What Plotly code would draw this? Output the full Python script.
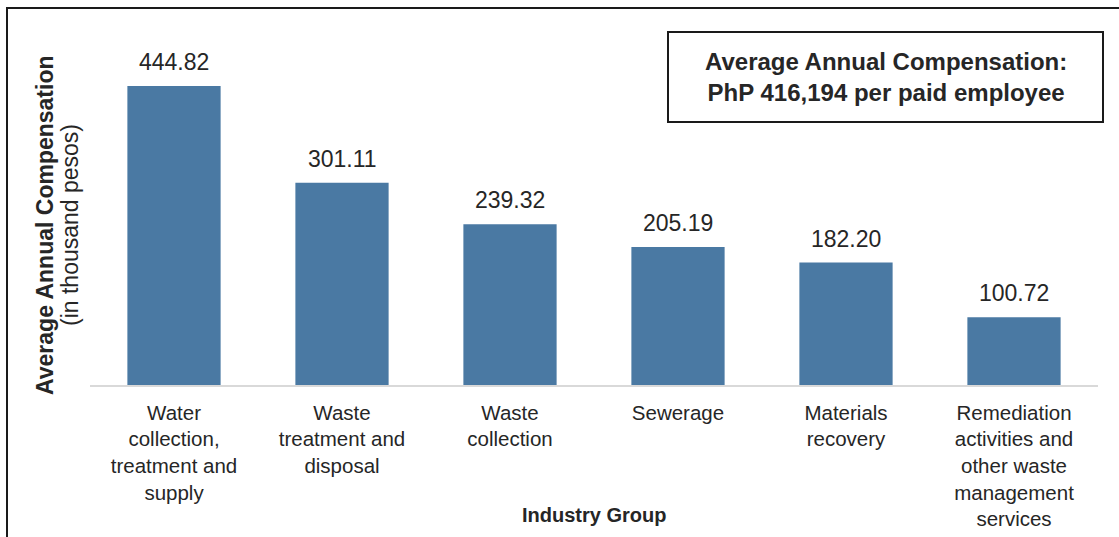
import plotly.graph_objects as go

categories = [
    "Water<br>collection,<br>treatment and<br>supply",
    "Waste<br>treatment and<br>disposal",
    "Waste<br>collection",
    "Sewerage",
    "Materials<br>recovery",
    "Remediation<br>activities and<br>other waste<br>management<br>services",
]
values = [444.82, 301.11, 239.32, 205.19, 182.20, 100.72]
value_labels = ["444.82", "301.11", "239.32", "205.19", "182.20", "100.72"]

FONT = "Liberation Sans, Arial, Helvetica, sans-serif"
BAR = "#4a79a3"
TXT = "#262626"

fig = go.Figure(
    go.Bar(
        x=categories,
        y=values,
        marker=dict(color=BAR, line=dict(width=0)),
        cliponaxis=False,
    )
)

annotations = []
for c, v, lab in zip(categories, values, value_labels):
    annotations.append(dict(
        x=c, y=v, xref="x", yref="y", text=lab, showarrow=False,
        yanchor="bottom", xanchor="center", yshift=9,
        font=dict(size=23, color=TXT, family=FONT),
    ))

annotations += [
    dict(
        xref="paper", yref="paper", x=(45 - 90) / 1008, y=(385 - 225) / 336,
        text="<b>Average Annual Compensation</b>",
        textangle=-90, showarrow=False,
        font=dict(size=23, color=TXT, family=FONT),
        xanchor="center", yanchor="middle",
    ),
    dict(
        xref="paper", yref="paper", x=(70 - 90) / 1008, y=(385 - 225) / 336,
        text="(in thousand pesos)",
        textangle=-90, showarrow=False,
        font=dict(size=23, color=TXT, family=FONT),
        xanchor="center", yanchor="middle",
    ),
    dict(
        xref="paper", yref="paper", x=0.5, y=(385 - 515) / 336,
        text="<b>Industry Group</b>", showarrow=False,
        font=dict(size=20, color=TXT, family=FONT),
        xanchor="center", yanchor="middle",
    ),
    dict(
        xref="paper", yref="paper", x=(885.5 - 90) / 1008, y=(385 - 77) / 336,
        text="<b>Average Annual Compensation:<br>PhP 416,194 per paid employee</b>",
        showarrow=False,
        font=dict(size=24, color=TXT, family=FONT),
        xanchor="center", yanchor="middle",
    ),
]

fig.update_layout(
    width=1119,
    height=537,
    margin=dict(l=90, r=21, t=49, b=152),
    paper_bgcolor="white",
    plot_bgcolor="white",
    bargap=0.445,
    showlegend=False,
    font=dict(family=FONT, color=TXT),
    xaxis=dict(
        showline=True,
        linecolor="#d9d9d9",
        linewidth=2,
        ticks="",
        tickfont=dict(size=20.5, color=TXT, family=FONT),
        showgrid=False,
        automargin=False,
        ticklabelstandoff=8,
    ),
    yaxis=dict(
        range=[0, 500],
        showticklabels=False,
        showgrid=False,
        zeroline=False,
        showline=False,
        ticks="",
        automargin=False,
    ),
    annotations=annotations,
    shapes=[
        # summary box
        dict(type="rect", xref="paper", yref="paper",
             x0=(668 - 90) / 1008, x1=(1103 - 90) / 1008,
             y0=(385 - 122) / 336, y1=(385 - 32) / 336,
             line=dict(color="#1a1a1a", width=2), fillcolor="rgba(0,0,0,0)"),
        # outer frame
        dict(type="rect", xref="paper", yref="paper",
             x0=(7 - 90) / 1008, x1=(1130 - 90) / 1008,
             y0=(385 - 560) / 336, y1=(385 - 8) / 336,
             line=dict(color="#1a1a1a", width=2), fillcolor="rgba(0,0,0,0)"),
    ],
)

fig.write_html(
    "out.html",
    config={"displayModeBar": False},
    post_script="document.body.style.margin='0';document.body.style.padding='0';",
)
